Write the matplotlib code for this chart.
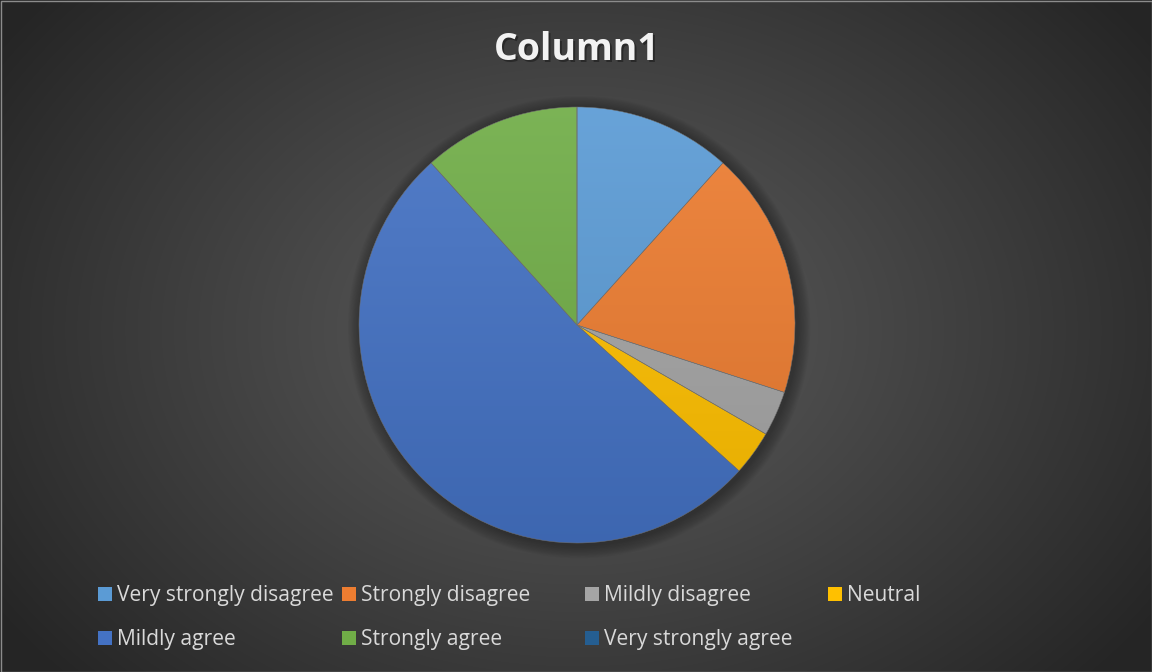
import numpy as np
import matplotlib
matplotlib.use("Agg")
import matplotlib.pyplot as plt
from matplotlib.patches import Rectangle, Circle
from matplotlib.colors import to_rgb

# Survey responses
categories = ["Very strongly disagree", "Strongly disagree", "Mildly disagree",
              "Neutral", "Mildly agree", "Strongly agree", "Very strongly agree"]
counts = [7, 11, 2, 2, 31, 7, 0]
colors = ["#5B9BD5", "#ED7D31", "#A5A5A5", "#FFC000", "#4472C4", "#70AD47", "#255E91"]
title = "Column1"

W, H = 1152, 672
fig = plt.figure(figsize=(W / 100, H / 100), dpi=100)

# Radial gradient background
bg = fig.add_axes([0, 0, 1, 1])
bg.set_axis_off()
yy, xx = np.mgrid[0:H, 0:W]
r = np.sqrt(((xx - 577) / 700.0) ** 2 + ((yy - 330) / 520.0) ** 2)
r = np.clip(r, 0, 1)
c0, c1 = 0x5c / 255, 0x25 / 255
v = c0 + (c1 - c0) * r ** 1.1
img = np.dstack([v, v, v])
bg.imshow(img, extent=(0, W, H, 0), aspect="auto", interpolation="bilinear")
bg.add_patch(Rectangle((0.5, 0.5), W - 1, H - 1, fill=False, edgecolor="#8c8c8c", lw=1))
bg.set_xlim(0, W)
bg.set_ylim(H, 0)

# Pie axes
cx, cy, R = 577, 325, 218
ax = fig.add_axes([(cx - R) / W, (H - cy - R) / H, 2 * R / W, 2 * R / H])
ax.set_axis_off()

# soft shadow behind the pie
for k in range(10):
    ax.add_patch(Circle((0.01, -0.01), 1.0 + 0.006 * (10 - k), color="black",
                        alpha=0.03, lw=0, zorder=0, clip_on=False))

wedges, _ = ax.pie(counts, colors=colors, startangle=90, counterclock=False,
                   radius=1.0, wedgeprops=dict(edgecolor="#707070", linewidth=0.35))

# vertical shading inside each slice
gy = np.linspace(1, 0, 256)[:, None]
for w, col in zip(wedges, colors):
    base = np.array(to_rgb(col))
    top = np.clip(base + (1 - base) * 0.08, 0, 1)
    bot = base * 0.90
    grad = top[None, None, :] * gy[..., None] + bot[None, None, :] * (1 - gy[..., None])
    grad = np.repeat(grad, 2, axis=1)
    im = ax.imshow(grad, extent=(-1, 1, -1, 1), aspect="auto", zorder=w.get_zorder() + 0.1,
                   interpolation="bilinear")
    im.set_clip_path(w)
    w.set_facecolor("none")
    w.set_zorder(w.get_zorder() + 0.2)
ax.set_xlim(-1.0, 1.0)
ax.set_ylim(-1.0, 1.0)
ax.set_aspect("equal")

# Title with a soft drop shadow
fig.text(cx / W + 0.0012, 1 - 51.5 / H, title, ha="center", va="center",
         fontsize=27, fontweight="bold", family="Open Sans", color="black", alpha=0.35)
fig.text(cx / W, 1 - 50 / H, title, ha="center", va="center",
         fontsize=27, fontweight="bold", family="Open Sans", color="#f2f2f2")

# Legend laid out in rows of four
col_x = [98, 342, 585, 828]
row_y = [594, 638]
sq = 14
for i, (name, col) in enumerate(zip(categories, colors)):
    x = col_x[i % 4]
    y = row_y[i // 4]
    bg.add_patch(Rectangle((x, y - sq / 2), sq, sq, facecolor=col, edgecolor="none"))
    bg.text(x + sq + 5, y + 1.5, name, ha="left", va="center", fontsize=15.1,
            family="Open Sans", color="#d9d9d9")

fig.savefig("out.png", dpi=100)
